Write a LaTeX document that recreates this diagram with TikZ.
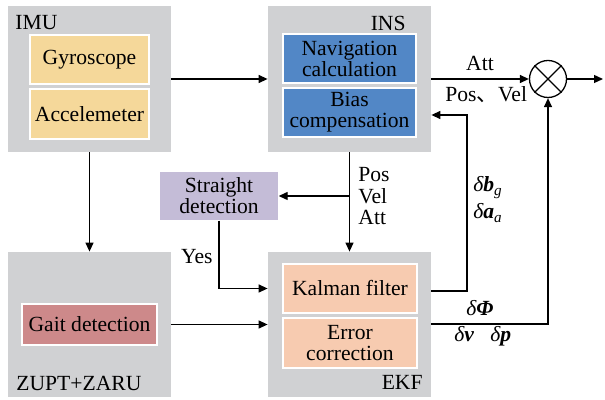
\documentclass[tikz,border=0pt]{standalone}
\usepackage{fontspec}
\setmainfont{Liberation Serif}
\newfontfamily\cjk{Noto Sans CJK SC}
\usetikzlibrary{arrows.meta}
\definecolor{panel}{HTML}{D0D1D3}
\definecolor{sensor}{HTML}{F5D89A}
\definecolor{navblue}{HTML}{5287C6}
\definecolor{ekfpeach}{HTML}{F7CBB0}
\definecolor{lilac}{HTML}{C4BCD7}
\definecolor{rose}{HTML}{CD898A}
\begin{document}
\begin{tikzpicture}[x=0.5pt,y=-0.5pt,
  every node/.style={font=\fontsize{10.8}{10.5}\selectfont},
  panelbox/.style={fill=panel,draw=none,minimum width=81.5pt,minimum height=73pt,inner sep=0},
  inbox/.style={draw=white,line width=0.7pt,inner sep=0,align=center},
  arr/.style={line width=0.65pt,-{Triangle[length=4.5pt,width=4pt]}},
  ln/.style={line width=0.65pt},
  lbl/.style={inner sep=0}]
\useasboundingbox (0,0) rectangle (605,400);

% grey module panels
\node[panelbox] (IMU) at (89.5,79) {};
\node[panelbox] (INS) at (349.5,79) {};
\node[panelbox,minimum height=72.5pt] (ZUPT) at (89.5,324.5) {};
\node[panelbox,minimum height=72.5pt] (EKF) at (349.5,324.5) {};

% inner blocks
\node[inbox,fill=sensor,minimum width=59.5pt,minimum height=24.5pt] (Gyro) at (89.5,59.5) {Gyroscope};
\node[inbox,fill=sensor,minimum width=59.5pt,minimum height=25pt] (Acc) at (89.5,114) {Accelemeter};
\node[inbox,fill=navblue,minimum width=66.5pt,minimum height=24.5pt] (Nav) at (349.5,58.5) {Navigation\\calculation};
\node[inbox,fill=navblue,minimum width=66.5pt,minimum height=24.5pt] (Bias) at (349.5,112.5) {Bias\\compensation};
\node[inbox,fill=ekfpeach,minimum width=67pt,minimum height=24.5pt] (Kalman) at (350,288.5) {Kalman filter};
\node[inbox,fill=ekfpeach,minimum width=67pt,minimum height=25pt] (Err) at (350,343) {Error\\correction};
\node[inbox,fill=lilac,draw=none,minimum width=59pt,minimum height=24pt] (Straight) at (219,196) {Straight\\detection};
\node[inbox,fill=rose,minimum width=67.5pt,minimum height=20.5pt] (Gait) at (89.5,324.5) {Gait detection};

% panel titles
\node[lbl,anchor=west] at (15,22.5) {IMU};
\node[lbl,anchor=east] at (406,23.5) {INS};
\node[lbl,anchor=west] at (16,383) {ZUPT+ZARU};
\node[lbl,anchor=east] at (423,382) {EKF};

% multiplier
\node[draw,circle,line width=0.65pt,fill=white,minimum size=18.5pt,inner sep=0] (X) at (548,79) {};
\draw[ln] (X.north west) -- (X.south east) (X.north east) -- (X.south west);
\coordinate (out) at (603,79);

% feedback corners
\coordinate (kout) at (431,291);
\coordinate (fb) at (467,115);
\coordinate (eout) at (431,324);

% connectors
\draw[arr] (IMU.east) -- (INS.west);
\draw[arr] (IMU.south) -- (ZUPT.north);
\draw[arr] (INS.east) -- (X.west);
\draw[arr] (X.east) -- (out);
\draw[arr] (INS.south) -- (EKF.north);
\draw[arr] (INS.south |- Straight.east) -- (Straight.east);
\draw[arr] (Straight.south) |- (EKF.west |- Kalman.west);
\draw[arr] (ZUPT.east) -- (EKF.west);
\draw[arr] (kout) -| (fb) -- (INS.east |- fb);
\draw[arr] (eout) -| (X.south);

% signal labels
\node[lbl] at (480,63) {Att};
\node[lbl,anchor=base west] at (445,102) {Pos{\cjk 、}Vel};
\node[lbl,anchor=base west] at (358,182) {Pos};
\node[lbl,anchor=base west] at (358,204) {Vel};
\node[lbl,anchor=base west] at (358,225) {Att};
\node[lbl,anchor=base east] at (213,264) {Yes};
\node[lbl,anchor=base west] at (473,192) {\itshape δ\textbf{b}\textsubscript{g}};
\node[lbl,anchor=base west] at (473,219) {\itshape δ\textbf{a}\textsubscript{a}};
\node[lbl,anchor=base west] at (466,316) {\itshape δ\textbf{Φ}};
\node[lbl,anchor=base west] at (454,342) {\itshape δ\textbf{v}};
\node[lbl,anchor=base west] at (490,342) {\itshape δ\textbf{p}};
\end{tikzpicture}
\end{document}
